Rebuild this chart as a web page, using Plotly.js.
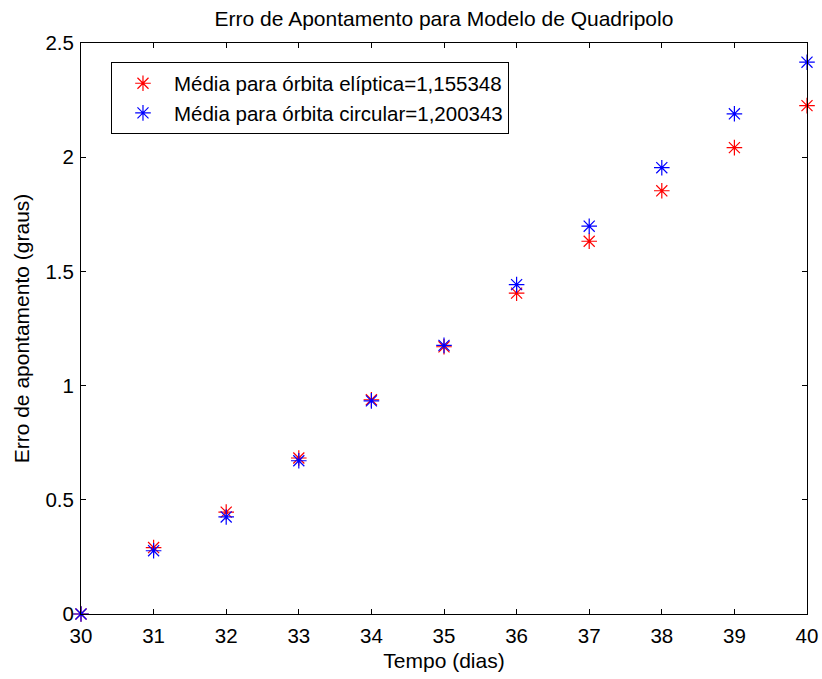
<!DOCTYPE html>
<html>
<head>
<meta charset="utf-8">
<script src="https://cdn.plot.ly/plotly-3.0.1.min.js"></script>
<style>html,body{margin:0;padding:0;background:#fff;}#chart{width:822px;height:679px;}</style>
</head>
<body>
<div id="chart"></div>
<script>
const dias = [30, 31, 32, 33, 34, 35, 36, 37, 38, 39, 40];
const erroEliptica = [0, 0.291, 0.446, 0.683, 0.938, 1.170, 1.405, 1.632, 1.853, 2.042, 2.226];
const erroCircular = [0, 0.277, 0.425, 0.671, 0.933, 1.176, 1.442, 1.698, 1.954, 2.190, 2.416];
const nomeEliptica = "Média para órbita elíptica=1,155348";
const nomeCircular = "Média para órbita circular=1,200343";
const yTicks = [0, 0.5, 1, 1.5, 2, 2.5];

const fontFam = "Liberation Sans, Arial, Helvetica, sans-serif";

const traces = [
  {
    x: dias, y: erroEliptica, name: nomeEliptica, type: "scatter", mode: "markers",
    marker: {symbol: "asterisk-open", size: 13, color: "#ff0000", line: {color: "#ff0000", width: 1.2}},
    cliponaxis: false
  },
  {
    x: dias, y: erroCircular, name: nomeCircular, type: "scatter", mode: "markers",
    marker: {symbol: "asterisk-open", size: 13, color: "#0000ff", line: {color: "#0000ff", width: 1.2}},
    cliponaxis: false
  }
];

const axisCommon = {
  showgrid: false, zeroline: false, showline: true, mirror: "ticks",
  linecolor: "#000", linewidth: 1, ticks: "inside", ticklen: 5, tickcolor: "#000",
  tickfont: {family: fontFam, size: 20.5, color: "#000"}
};

const layout = {
  width: 822, height: 679,
  margin: {l: 81, r: 15, t: 43, b: 65, pad: 0},
  paper_bgcolor: "#fff", plot_bgcolor: "#fff",
  font: {family: fontFam, color: "#000"},
  title: {text: "Erro de Apontamento para Modelo de Quadripolo", font: {family: fontFam, size: 21, color: "#000"},
          x: 0.5, xanchor: "center", y: 0.973, yanchor: "middle", xref: "paper"},
  xaxis: Object.assign({}, axisCommon, {
    range: [30, 40], tickmode: "array", tickvals: dias, ticklabelstandoff: 3,
    title: {text: "Tempo (dias)", font: {family: fontFam, size: 21, color: "#000"}, standoff: 7}
  }),
  yaxis: Object.assign({}, axisCommon, {
    range: [0, 2.5], tickmode: "array", tickvals: yTicks, ticktext: yTicks.map(String), ticklabelstandoff: 2,
    title: {text: "Erro de apontamento (graus)", font: {family: fontFam, size: 21, color: "#000"}, standoff: 10}
  }),
  showlegend: true,
  legend: {
    x: 0.0413, y: 0.966, xanchor: "left", yanchor: "top",
    bgcolor: "#fff", bordercolor: "#000", borderwidth: 1,
    font: {family: fontFam, size: 20.5, color: "#000"},
    itemwidth: 52, tracegroupgap: 0
  }
};

Plotly.newPlot("chart", traces, layout, {displayModeBar: false, staticPlot: true});
</script>
</body>
</html>
